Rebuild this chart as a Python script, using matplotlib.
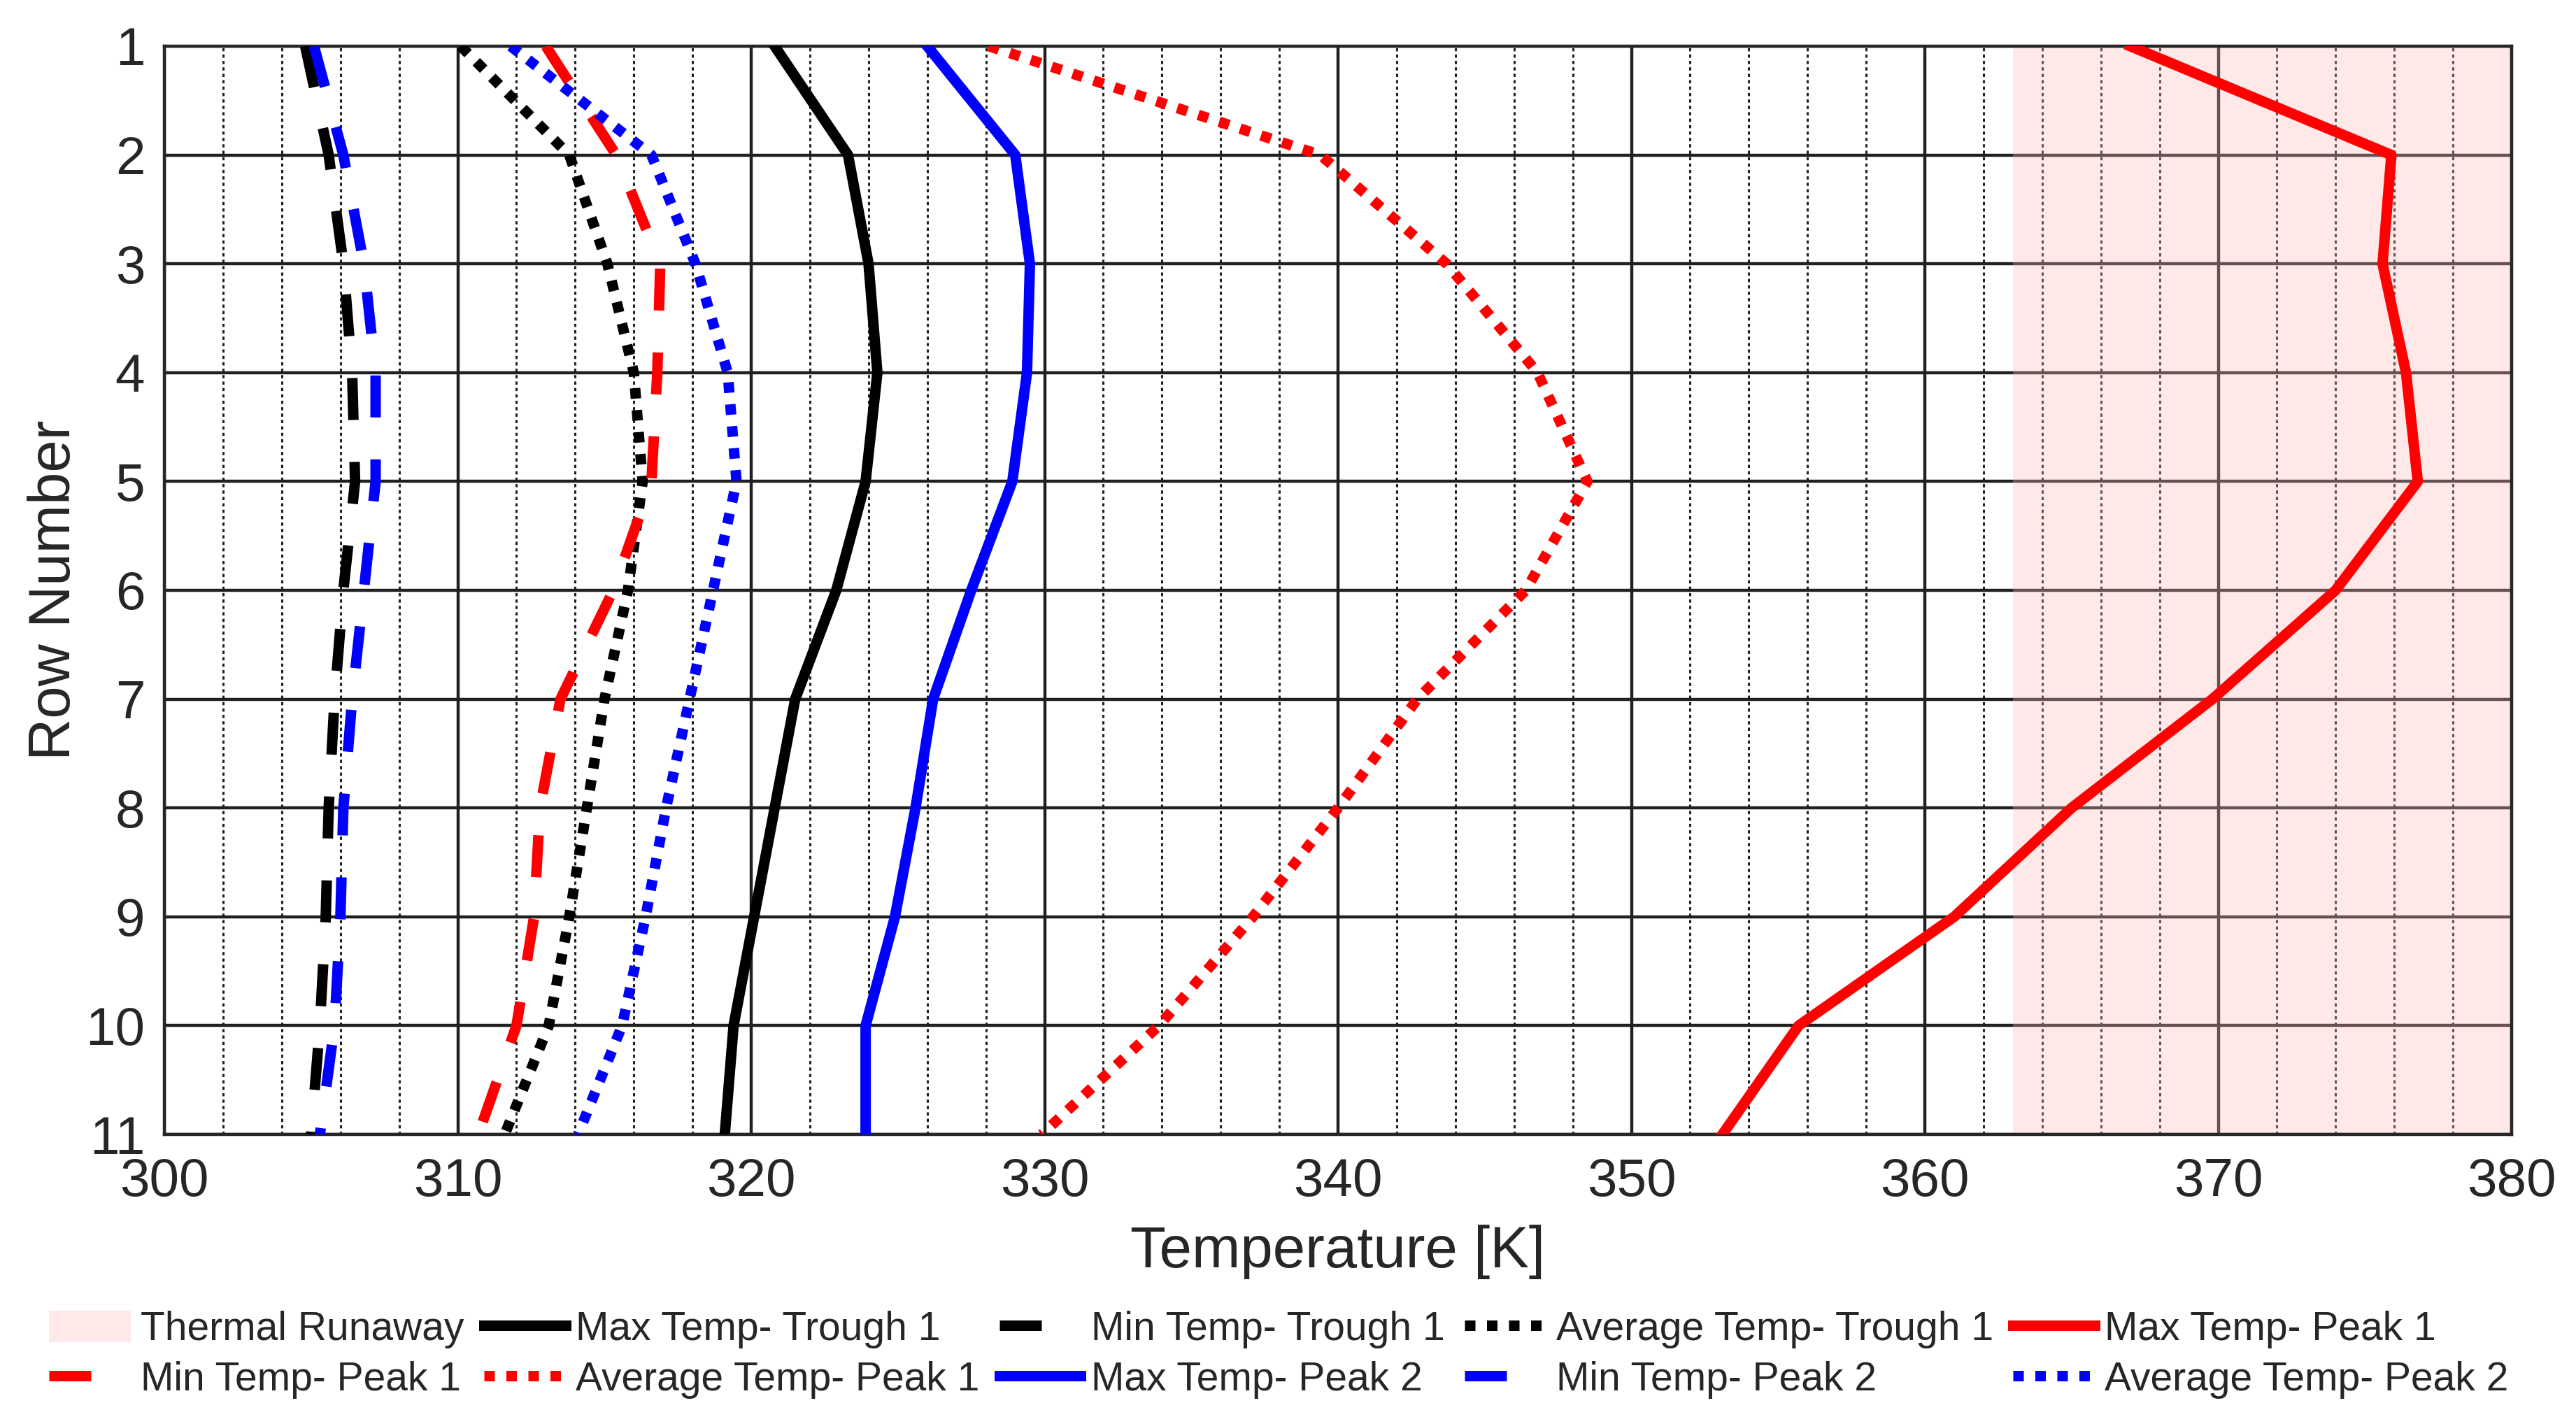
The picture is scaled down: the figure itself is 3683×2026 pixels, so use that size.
import numpy as np
import matplotlib
matplotlib.use('Agg')
import matplotlib.pyplot as plt
from matplotlib.ticker import MultipleLocator

plt.rcParams['font.family'] = ['Liberation Sans', 'DejaVu Sans']

# row numbers along the cell string
rows = [1, 2, 3, 4, 5, 6, 7, 8, 9, 10, 11]

# temperatures [K]
max_trough1 = [320.8, 323.3, 324.0, 324.3, 323.9, 322.9, 321.5, 320.8, 320.1, 319.4, 319.1]
min_trough1 = [304.8, 305.6, 306.1, 306.4, 306.5, 306.1, 305.8, 305.6, 305.5, 305.3, 305.0]
avg_trough1 = [310.1, 313.8, 315.1, 316.0, 316.3, 315.8, 315.0, 314.4, 313.8, 313.1, 311.6]
max_peak1 = [367.0, 375.9, 375.6, 376.4, 376.8, 374.0, 369.8, 365.0, 361.0, 355.7, 353.1]
min_peak1 = [313.0, 315.4, 316.9, 316.8, 316.6, 315.3, 313.5, 312.8, 312.6, 312.0, 310.7]
avg_peak1 = [328.1, 339.4, 343.7, 346.8, 348.5, 346.4, 342.7, 340.0, 337.1, 333.9, 329.9]
max_peak2 = [326.0, 329.0, 329.5, 329.4, 328.9, 327.5, 326.2, 325.6, 324.9, 323.9, 323.9]
min_peak2 = [305.1, 306.1, 306.8, 307.2, 307.2, 306.8, 306.4, 306.1, 306.0, 305.8, 305.3]
avg_peak2 = [311.8, 316.6, 318.1, 319.2, 319.5, 318.7, 317.9, 317.1, 316.4, 315.6, 314.1]

runaway_start = 363
x_min, x_max = 300, 380

txt = '#262626'
lw = 5.4
dash = (4.0, 4.0)
dot = (1.0, 1.1)

fig = plt.figure(figsize=(3683/200, 2026/200), dpi=200)
ax = fig.add_axes([235/3683, 1-1622/2026, (3591-235)/3683, (1622-66)/2026])

# shaded runaway band (drawn over the grid, under the lines)
span = ax.axvspan(runaway_start, x_max, facecolor=(1.0, 0.72, 0.72), alpha=0.32,
                  edgecolor='none', zorder=1, label='Thermal Runaway')

series = [
    (max_trough1, 'black', None, 'Max Temp- Trough 1'),
    (min_trough1, 'black', dash, 'Min Temp- Trough 1'),
    (avg_trough1, 'black', dot, 'Average Temp- Trough 1'),
    (max_peak1, 'red', None, 'Max Temp- Peak 1'),
    (min_peak1, 'red', dash, 'Min Temp- Peak 1'),
    (avg_peak1, 'red', dot, 'Average Temp- Peak 1'),
    (max_peak2, 'blue', None, 'Max Temp- Peak 2'),
    (min_peak2, 'blue', dash, 'Min Temp- Peak 2'),
    (avg_peak2, 'blue', dot, 'Average Temp- Peak 2'),
]

handles = [span]
for vals, col, ds, lab in series:
    ln, = ax.plot(vals, rows, color=col, lw=lw, label=lab, zorder=3)
    if ds is not None:
        ln.set_dashes(ds)
    handles.append(ln)

ax.set_xlim(x_min, x_max)
ax.set_ylim(11, 1)
ax.set_yticks(rows)
ax.xaxis.set_major_locator(MultipleLocator(10))
ax.xaxis.set_minor_locator(MultipleLocator(2))

ax.set_axisbelow(True)
ax.grid(True, which='major', axis='both', color='#202020', lw=1.6, zorder=0.5)
ax.grid(True, which='minor', axis='x', color='#202020', lw=1.1, linestyle=(0, (1.5, 1.5)), zorder=0.5)

ax.tick_params(axis='both', which='both', length=0, labelsize=27.5, colors=txt)
ax.tick_params(axis='x', pad=12)
ax.tick_params(axis='y', pad=10)
for s in ax.spines.values():
    s.set_color(txt)
    s.set_linewidth(1.6)

ax.set_xlabel('Temperature [K]', fontsize=30, color=txt, labelpad=9)
ax.set_ylabel('Row Number', fontsize=30, color=txt, labelpad=2)

# legend fills column by column, so reorder to get the reference rows
order = [0, 5, 1, 6, 2, 7, 3, 8, 4, 9]
hh = [handles[i] for i in order]
leg = fig.legend(hh, [h.get_label() for h in hh], ncol=5, loc='upper left',
                 bbox_to_anchor=(70/3683, 1-1874/2026), frameon=False,
                 fontsize=20.5, borderpad=0, borderaxespad=0,
                 handlelength=2.05, handletextpad=0.25, columnspacing=0.5,
                 labelspacing=0.3, handleheight=0.85)
for t in leg.get_texts():
    t.set_color(txt)

fig.savefig('out.png', dpi=200)
